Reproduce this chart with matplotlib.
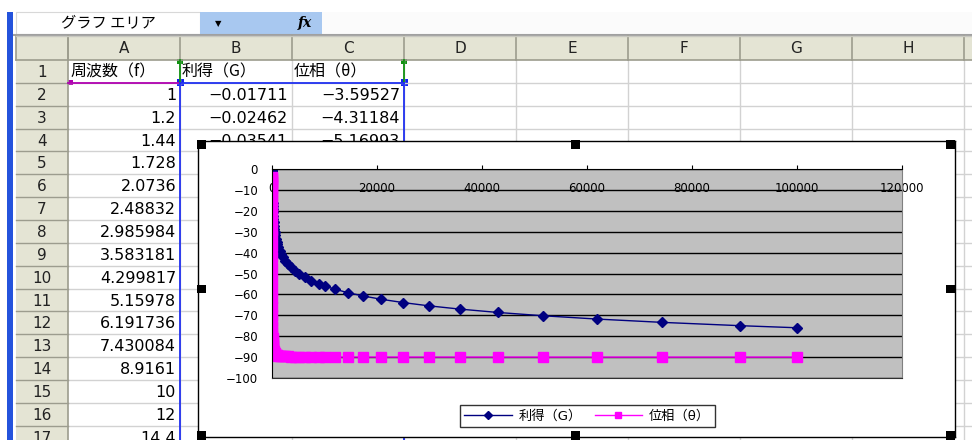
import matplotlib
matplotlib.use("Agg")
import matplotlib.pyplot as plt
from matplotlib.patches import Rectangle

plt.rcParams['font.family'] = ['DejaVu Sans', 'Noto Sans CJK JP']

W, H = 972, 440

# frequency sweep (column A) and the gain / phase response (columns B, C)
freq = [1, 1.2, 1.44, 1.728, 2.0736, 2.48832, 2.985984, 3.583181, 4.299817,
        5.15978, 6.191736, 7.430084, 8.9161,
        10, 12, 14.4, 17.28, 20.736, 24.8832, 29.85984, 35.83181, 42.99817,
        51.5978, 61.91736, 74.30084, 89.161,
        100, 120, 144, 172.8, 207.36, 248.832, 298.5984, 358.3181, 429.9817,
        515.978, 619.1736, 743.0084, 891.61,
        1000, 1200, 1440, 1728, 2073.6, 2488.32, 2985.984, 3583.181, 4299.817,
        5159.78, 6191.736, 7430.084, 8916.1,
        10000, 12000, 14400, 17280, 20736, 24883.2, 29859.84, 35831.81,
        42998.17, 51597.8, 61917.36, 74300.84, 89161,
        100000]

gain = [-0.01711, -0.02462, -0.03541, -0.0509, -0.0731, -0.1049, -0.1502,
        -0.2148, -0.3064, -0.4340, -0.6121, -0.8563, -1.1854,
        -1.445, -1.955, -2.597, -3.382, -4.310, -5.371, -6.551, -7.831,
        -9.190, -10.611, -12.078, -13.578, -15.103,
        -16.072, -17.623, -19.184, -20.751, -22.324, -23.899, -25.478,
        -27.058, -28.639, -30.220, -31.803, -33.386, -34.968,
        -35.965, -37.548, -39.132, -40.715, -42.299, -43.883, -45.466,
        -47.050, -48.634, -50.217, -51.801, -53.385, -54.968,
        -55.963, -57.546, -59.130, -60.714, -62.297, -63.881, -65.465,
        -67.048, -68.632, -70.215, -71.799, -73.383, -74.966,
        -75.963]

phase = [-3.59527, -4.31184, -5.16993, -6.197, -7.423, -8.886, -10.626,
         -12.688, -15.118, -17.963, -21.259, -25.025, -29.259,
         -32.142, -37.016, -42.138, -47.35, -52.493, -57.39, -61.942,
         -66.051, -69.69, -72.859, -75.585, -77.910, -79.879,
         -80.957, -82.445, -83.693, -84.738, -85.611, -86.340, -86.949,
         -87.457, -87.880, -88.233, -88.527, -88.773, -88.977,
         -89.088, -89.240, -89.367, -89.472, -89.560, -89.634, -89.695,
         -89.746, -89.788, -89.823, -89.853, -89.877, -89.898,
         -89.909, -89.924, -89.937, -89.947, -89.956, -89.963, -89.969,
         -89.975, -89.979, -89.982, -89.985, -89.988, -89.990,
         -89.991]

col_names = ['A', 'B', 'C', 'D', 'E', 'F', 'G', 'H', '']
headers = ['周波数（f）', '利得（G）', '位相（θ）']
x_ticks = [0, 20000, 40000, 60000, 80000, 100000, 120000]
y_ticks = [0, -10, -20, -30, -40, -50, -60, -70, -80, -90, -100]


def num(v):
    s = f"{v:.6f}".rstrip('0').rstrip('.')
    return s.replace('-', '−')


fig = plt.figure(figsize=(W / 100, H / 100), dpi=100)

# ---- worksheet background, drawn in pixel coordinates ----
bg = fig.add_axes([0, 0, 1, 1])
bg.set_xlim(0, W)
bg.set_ylim(H, 0)
bg.axis('off')


def box(x0, y0, x1, y1, **kw):
    bg.add_patch(Rectangle((x0, y0), x1 - x0, y1 - y0, **kw))


hdr_fill = '#e4e4d4'
hdr_line = '#9c9c8e'
cell_line = '#d2d2d2'

# name box + formula bar
box(16, 12, 200, 34, fc='white', ec='#d8d8d8', lw=0.8)
box(200, 12, 322, 34, fc='#a8c8f0', ec='none')
box(322, 12, W, 34, fc='#fbfbfb', ec='none')
bg.text(108, 23, 'グラフ エリア', ha='center', va='center', fontsize=11,
        family=['Noto Sans CJK JP'])
bg.text(218, 23.5, '▼', ha='center', va='center', fontsize=6)
bg.text(305, 23, 'fx', ha='center', va='center', fontsize=10,
        family='DejaVu Serif', style='italic', weight='bold')
bg.plot([14, W], [35, 35], color='#a0a0a0', lw=1.5)

# left window edge
box(7, 12, 13, H, fc='#2453dc', ec='none')

col_edges = [16] + [68 + 112 * i for i in range(10)]
row_edges = [60 + 22.86 * i for i in range(18)]

box(16, 36, W, 60, fc=hdr_fill, ec='none')
box(16, 60, 68, H, fc=hdr_fill, ec='none')

for y in row_edges[1:]:
    bg.plot([68, W], [y, y], color=cell_line, lw=1)
    bg.plot([16, 68], [y, y], color=hdr_line, lw=1)
for x in col_edges[2:]:
    bg.plot([x, x], [60, H], color=cell_line, lw=1)
for x in col_edges:
    bg.plot([x, x], [36, 60], color=hdr_line, lw=1.2)
bg.plot([68, 68], [36, H], color=hdr_line, lw=1.2)
bg.plot([16, W], [60, 60], color=hdr_line, lw=1.2)
bg.plot([16, W], [36, 36], color='#c8c8c0', lw=1)

for i, name in enumerate(col_names):
    xc = (col_edges[i + 1] + col_edges[i + 2]) / 2
    bg.text(xc, 48.5, name, ha='center', va='center', fontsize=11, color='#222222')
for r in range(17):
    yc = (row_edges[r] + row_edges[r + 1]) / 2 + 1
    bg.text(42, yc, str(r + 1), ha='center', va='center', fontsize=11, color='#222222')


def cell_y(row):
    return (row_edges[row - 1] + row_edges[row]) / 2 + 1


# row 1 headers
for i, h in enumerate(headers):
    bg.text(col_edges[1 + i] + 2, cell_y(1), h, ha='left', va='center',
            fontsize=11.5, family=['Noto Sans CJK JP'])
# column A values
for r in range(16):
    bg.text(col_edges[2] - 4, cell_y(r + 2), num(freq[r]), ha='right',
            va='center', fontsize=11.5)
# columns B, C (first rows, the rest sits under the chart)
for r in range(3):
    bg.text(col_edges[3] - 4, cell_y(r + 2), f"{gain[r]:.5f}".replace('-', '−'),
            ha='right', va='center', fontsize=11.5)
    bg.text(col_edges[4] - 4, cell_y(r + 2), f"{phase[r]:.5f}".replace('-', '−'),
            ha='right', va='center', fontsize=11.5)

# chart source range highlights
y1 = row_edges[1]
bg.plot([68, 180], [y1, y1], color='#b000b0', lw=1.3)
bg.add_patch(Rectangle((68, y1 - 3), 5, 5, fc='#b000b0', ec='none'))
for x in (180, 404):
    bg.plot([x, x], [60, y1], color='#109010', lw=1.3)
    bg.add_patch(Rectangle((x - 3, 59), 6, 5, fc='#109010', ec='none'))
    bg.plot([x, x], [y1, H], color='#2030f0', lw=1.3)
    bg.add_patch(Rectangle((x - 3.5, y1 - 3.5), 7, 7, fc='#1020f0', ec='none'))
bg.plot([180, 404], [y1, y1], color='#2030f0', lw=1.3)

# ---- embedded chart ----
def frac(x0, y0, x1, y1):
    return [x0 / W, 1 - y1 / H, (x1 - x0) / W, (y1 - y0) / H]


chart = fig.add_axes(frac(198, 141, 955, 437), zorder=2)
chart.set_facecolor('white')
chart.set_xticks([])
chart.set_yticks([])
for s in chart.spines.values():
    s.set_color('black')
    s.set_linewidth(1)

ax = fig.add_axes(frac(272, 169, 902, 378), zorder=3)
ax.set_facecolor('#c0c0c0')
ax.set_xlim(0, 120000)
ax.set_ylim(-100, 0)
ax.set_xticks(x_ticks)
ax.set_yticks(y_ticks)
ax.grid(axis='y', color='black', lw=1)
ax.set_axisbelow(True)
ax.tick_params(axis='x', top=True, bottom=False, labeltop=True,
               labelbottom=False, direction='out', length=3, pad=-22,
               labelsize=8.5, width=0.8)
ax.tick_params(axis='y', length=0, pad=10, labelsize=8.5)
ax.spines['left'].set_color('black')
ax.spines['top'].set_color('black')
ax.spines['bottom'].set_color('#303030')
ax.spines['right'].set_color('#808080')

ax.plot(freq, gain, color='#000080', lw=1, marker='D', markersize=5.5,
        label=headers[1])
ax.plot(freq, phase, color='#ff00ff', lw=1, marker='s', markersize=6.5,
        label=headers[2])

leg = fig.legend(loc='center', bbox_to_anchor=((461 + 713) / 2 / W, 1 - 416 / H),
                 ncol=2, frameon=True, fancybox=False, markerscale=0.75,
                 edgecolor='black', borderpad=0.35, handlelength=3.6,
                 handletextpad=0.5, columnspacing=1.0,
                 prop={'family': ['DejaVu Sans', 'Noto Sans CJK JP'], 'size': 9.5})
leg.get_frame().set_linewidth(1)
leg.set_zorder(6)

# selection handles round the chart
for hx in (197, 571, 946):
    for hy in (140, 431):
        fig.add_artist(Rectangle((hx / W, 1 - (hy + 9) / H), 9 / W, 9 / H,
                                 transform=fig.transFigure, fc='black',
                                 ec='none', zorder=10))
for hx in (197, 946):
    fig.add_artist(Rectangle((hx / W, 1 - 293 / H), 9 / W, 8 / H,
                             transform=fig.transFigure, fc='black',
                             ec='none', zorder=10))

fig.savefig('out.png', dpi=100)
